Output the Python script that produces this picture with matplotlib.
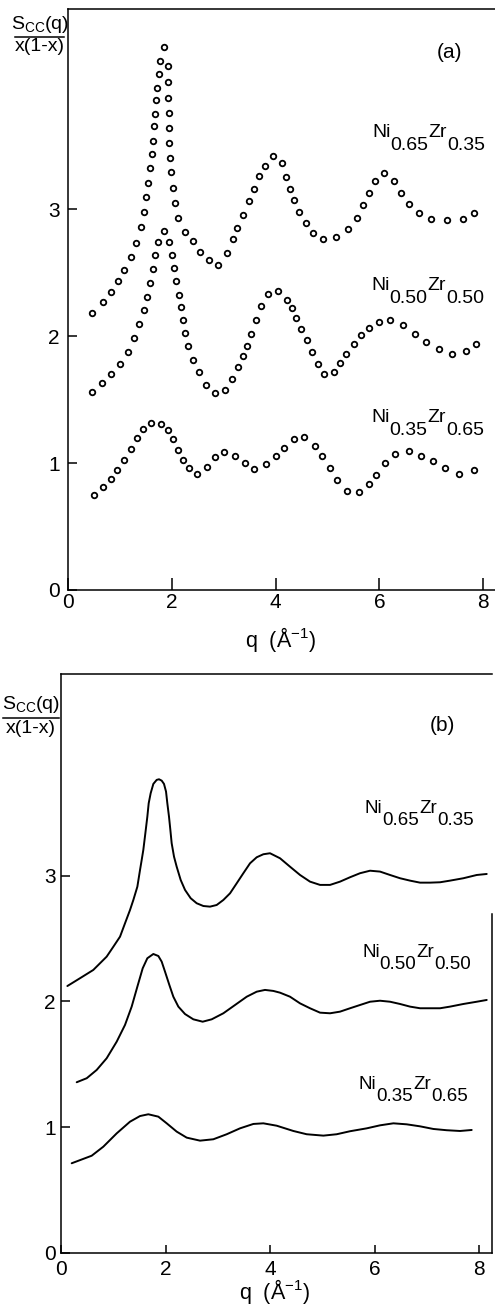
import matplotlib
matplotlib.use("Agg")
import matplotlib.pyplot as plt
from matplotlib.lines import Line2D

plt.rcParams['font.family'] = ['Liberation Sans', 'DejaVu Sans']
plt.rcParams['mathtext.fontset'] = 'custom'
plt.rcParams['mathtext.rm'] = 'Liberation Sans'
plt.rcParams['mathtext.it'] = 'Liberation Sans'

# ---------------- data: panel (a) experimental points ----------------
a_q_065 = [0.456, 0.668, 0.829, 0.957, 1.079, 1.207, 1.316, 1.400, 1.464, 1.503, 1.548,
           1.586, 1.618, 1.638, 1.657, 1.670, 1.690, 1.715, 1.753, 1.766, 1.844,
           1.927, 1.933, 1.933, 1.946, 1.946, 1.946, 1.959, 1.991, 2.017, 2.055, 2.113,
           2.254, 2.402, 2.543, 2.717, 2.890, 3.057, 3.173, 3.262, 3.372, 3.481, 3.584,
           3.686, 3.796, 3.956, 4.117, 4.194, 4.277, 4.361, 4.457, 4.580, 4.727, 4.907,
           5.170, 5.389, 5.568, 5.690, 5.793, 5.921, 6.089, 6.287, 6.422, 6.564, 6.757,
           7.000, 7.303, 7.605, 7.829]
a_s_065 = [2.18, 2.27, 2.35, 2.43, 2.52, 2.62, 2.73, 2.858, 2.979, 3.092, 3.207,
           3.320, 3.436, 3.538, 3.654, 3.751, 3.856, 3.955, 4.066, 4.168, 4.278,
           4.128, 3.997, 3.877, 3.753, 3.635, 3.517, 3.404, 3.289, 3.163, 3.047, 2.932,
           2.821, 2.75, 2.66, 2.60, 2.56, 2.65, 2.76, 2.85, 2.95, 3.06, 3.16,
           3.26, 3.34, 3.42, 3.36, 3.25, 3.16, 3.07, 2.98, 2.89, 2.81, 2.76,
           2.78, 2.84, 2.93, 3.03, 3.13, 3.22, 3.28, 3.22, 3.13, 3.04, 2.97,
           2.92, 2.91, 2.92, 2.97]

a_q_050 = [0.462, 0.661, 0.829, 1.008, 1.150, 1.266, 1.368, 1.464, 1.529, 1.580, 1.638,
           1.683, 1.728, 1.843, 1.946, 2.010, 2.049, 2.087, 2.133, 2.177, 2.216, 2.254,
           2.312, 2.402, 2.518, 2.659, 2.832, 3.031, 3.154, 3.282, 3.372, 3.449, 3.526,
           3.622, 3.713, 3.854, 4.046, 4.213, 4.310, 4.393, 4.489, 4.598, 4.707, 4.817,
           4.939, 5.132, 5.247, 5.363, 5.505, 5.652, 5.793, 5.986, 6.204, 6.455, 6.680,
           6.892, 7.148, 7.393, 7.669, 7.861]
a_s_050 = [1.561, 1.630, 1.701, 1.782, 1.874, 1.982, 2.092, 2.202, 2.310, 2.420, 2.528,
           2.635, 2.740, 2.824, 2.742, 2.640, 2.533, 2.433, 2.325, 2.226, 2.126, 2.024,
           1.921, 1.811, 1.714, 1.614, 1.551, 1.577, 1.661, 1.756, 1.840, 1.924, 2.018,
           2.126, 2.234, 2.331, 2.357, 2.283, 2.220, 2.142, 2.058, 1.966, 1.872, 1.780,
           1.698, 1.714, 1.785, 1.861, 1.937, 2.008, 2.063, 2.108, 2.123, 2.087, 2.016,
           1.953, 1.895, 1.861, 1.882, 1.937]

a_q_035 = [0.495, 0.668, 0.822, 0.950, 1.085, 1.214, 1.323, 1.439, 1.599, 1.786, 1.920,
           2.023, 2.126, 2.222, 2.331, 2.492, 2.685, 2.826, 3.006, 3.224, 3.410, 3.584,
           3.821, 4.008, 4.162, 4.348, 4.547, 4.765, 4.900, 5.048, 5.183, 5.382, 5.613,
           5.793, 5.941, 6.108, 6.294, 6.564, 6.807, 7.039, 7.264, 7.534, 7.817]
a_s_035 = [0.751, 0.811, 0.877, 0.945, 1.024, 1.110, 1.194, 1.268, 1.318, 1.310, 1.257,
           1.186, 1.105, 1.026, 0.958, 0.913, 0.969, 1.045, 1.084, 1.053, 0.997, 0.953,
           0.990, 1.055, 1.121, 1.186, 1.202, 1.136, 1.053, 0.958, 0.864, 0.780, 0.769,
           0.832, 0.903, 1.000, 1.071, 1.097, 1.055, 1.016, 0.961, 0.916, 0.942]

# ---------------- data: panel (b) calculated curves ----------------
b_q_065 = [0.116, 0.358, 0.613, 0.869, 0.997, 1.125, 1.220, 1.316, 1.380, 1.457, 1.508,
           1.540, 1.571, 1.610, 1.648, 1.674, 1.712, 1.763, 1.827, 1.872, 1.923, 1.967,
           2.006, 2.031, 2.063, 2.089, 2.114, 2.159, 2.210, 2.287, 2.370, 2.478, 2.593,
           2.721, 2.849, 2.976, 3.104, 3.232, 3.360, 3.487, 3.615, 3.743, 3.870, 3.998,
           4.190, 4.381, 4.573, 4.764, 4.956, 5.148, 5.339, 5.531, 5.722, 5.914, 6.105,
           6.297, 6.489, 6.680, 6.872, 7.063, 7.255, 7.446, 7.701, 7.958, 8.149]
b_s_065 = [2.123, 2.185, 2.251, 2.357, 2.436, 2.516, 2.622, 2.728, 2.808, 2.914, 3.047,
           3.127, 3.206, 3.339, 3.471, 3.578, 3.658, 3.732, 3.764, 3.769, 3.758, 3.732,
           3.671, 3.578, 3.471, 3.366, 3.260, 3.153, 3.073, 2.967, 2.888, 2.822, 2.782,
           2.760, 2.755, 2.768, 2.808, 2.861, 2.941, 3.021, 3.100, 3.148, 3.172, 3.180,
           3.140, 3.073, 3.007, 2.954, 2.928, 2.928, 2.954, 2.989, 3.021, 3.041, 3.034,
           3.007, 2.981, 2.962, 2.946, 2.946, 2.949, 2.962, 2.981, 3.007, 3.015]

b_q_050 = [0.295, 0.487, 0.678, 0.869, 1.061, 1.220, 1.348, 1.457, 1.559, 1.648, 1.763,
           1.859, 1.923, 1.987, 2.070, 2.146, 2.242, 2.370, 2.529, 2.708, 2.881, 3.104,
           3.328, 3.552, 3.743, 3.902, 4.061, 4.190, 4.381, 4.573, 4.764, 4.956, 5.148,
           5.339, 5.531, 5.722, 5.914, 6.105, 6.297, 6.489, 6.680, 6.872, 7.063, 7.255,
           7.446, 7.701, 7.958, 8.149]
b_s_050 = [1.357, 1.389, 1.455, 1.548, 1.680, 1.813, 1.959, 2.118, 2.264, 2.344, 2.378,
           2.362, 2.317, 2.237, 2.131, 2.038, 1.959, 1.900, 1.858, 1.839, 1.858, 1.906,
           1.972, 2.038, 2.078, 2.092, 2.084, 2.070, 2.038, 1.985, 1.946, 1.911, 1.906,
           1.919, 1.946, 1.972, 1.998, 2.006, 1.998, 1.980, 1.959, 1.946, 1.946, 1.946,
           1.959, 1.980, 1.998, 2.012]

b_q_035 = [0.199, 0.582, 0.805, 1.061, 1.316, 1.508, 1.667, 1.859, 2.019, 2.210, 2.402,
           2.657, 2.912, 3.168, 3.423, 3.679, 3.870, 4.126, 4.445, 4.700, 5.020, 5.275,
           5.531, 5.850, 6.105, 6.361, 6.616, 6.872, 7.127, 7.382, 7.638, 7.861]
b_s_035 = [0.712, 0.772, 0.844, 0.950, 1.043, 1.088, 1.102, 1.083, 1.030, 0.964, 0.916,
           0.892, 0.903, 0.943, 0.990, 1.025, 1.030, 1.011, 0.969, 0.943, 0.932, 0.943,
           0.967, 0.990, 1.014, 1.030, 1.022, 1.006, 0.985, 0.975, 0.969, 0.977]

compositions = [("0.65", "0.35"), ("0.50", "0.50"), ("0.35", "0.65")]
x_ticks = [0, 2, 4, 6, 8]
y_ticks = [0, 1, 2, 3]
panel_tags = ["(a)", "(b)"]

# ---------------- figure ----------------
W, H = 495, 1307
fig = plt.figure(figsize=(W / 100, H / 100), dpi=100)

def fx(px):
    return px / W

def fy(py):
    return 1 - py / H

axA = fig.add_axes([fx(68), fy(590), fx(495) - fx(68), fy(9) - fy(590)])
axB = fig.add_axes([fx(61.3), fy(1252.7), fx(492) - fx(61.3), fy(674) - fy(1252.7)])

for q, s in [(a_q_065, a_s_065), (a_q_050, a_s_050), (a_q_035, a_s_035)]:
    axA.plot(q, s, linestyle='none', marker='o', markersize=4.0,
             markerfacecolor='white', markeredgecolor='black', markeredgewidth=1.3)

for q, s in [(b_q_065, b_s_065), (b_q_050, b_s_050), (b_q_035, b_s_035)]:
    axB.plot(q, s, color='black', linewidth=1.4, solid_joinstyle='round',
             solid_capstyle='round')

axA.set_xlim(0, 8.227)
axA.set_ylim(0, 4.575)
axB.set_xlim(0, 8.25)
axB.set_ylim(0, 4.607)

for ax, xpad, ypad, xlen in [(axA, 2, 6, 9), (axB, 5, 4, 6)]:
    ax.set_xticks(x_ticks)
    ax.set_yticks(y_ticks)
    ax.tick_params(axis='x', direction='in', length=xlen, width=1.1, pad=xpad, labelsize=15)
    ax.tick_params(axis='y', direction='in', length=6.5, width=1.1, pad=ypad, labelsize=15)
    for sp in ax.spines.values():
        sp.set_linewidth(1.1)

axA.spines['right'].set_visible(False)
axB.spines['right'].set_bounds(0, 2.70)

# panel tags
fig.text(fx(450), fy(52), panel_tags[0], fontsize=15, ha='center', va='center')
fig.text(fx(442), fy(725), panel_tags[1], fontsize=15, ha='center', va='center')

# axis labels (x)
xlabel = r'q  (Å$^{\mathregular{-1}}$)'
fig.text(fx(281), fy(639), xlabel, fontsize=15.5, ha='center', va='center')
fig.text(fx(275), fy(1292), xlabel, fontsize=15.5, ha='center', va='center')

# axis labels (y) as stacked fraction
def ylabel_fraction(cx, num_base, line_y, den_base, x0, x1):
    fig.text(fx(cx), fy(num_base), r'$\mathregular{S_{CC}(q)}$', fontsize=14,
             ha='center', va='baseline')
    fig.add_artist(Line2D([fx(x0), fx(x1)], [fy(line_y), fy(line_y)],
                          transform=fig.transFigure, color='black', linewidth=1.1))
    fig.text(fx(cx), fy(den_base), 'x(1-x)', fontsize=14, ha='center', va='baseline')

ylabel_fraction(40, 29, 37, 51, 15, 64)
ylabel_fraction(31, 709, 718, 733, 3, 59)

# composition labels
fig.canvas.draw()
renderer = fig.canvas.get_renderer()

def formula(x_px, base_py, comp, size=14, drop=13):
    parts = [("Ni", 0), (comp[0], drop), ("Zr", 0), (comp[1], drop)]
    x = x_px
    for txt, d in parts:
        t = fig.text(fx(x), fy(base_py + d), txt, fontsize=size, ha='left', va='baseline')
        bb = t.get_window_extent(renderer)
        x = bb.x1

label_pos_a = [(372, 137), (371, 290), (371, 422)]
label_pos_b = [(365, 813), (362, 957), (359, 1089)]
for (x, y), comp in zip(label_pos_a, compositions):
    formula(x, y, comp)
for (x, y), comp in zip(label_pos_b, compositions):
    formula(x, y, comp, size=13.5, drop=12)

fig.savefig("out.png", dpi=100)
